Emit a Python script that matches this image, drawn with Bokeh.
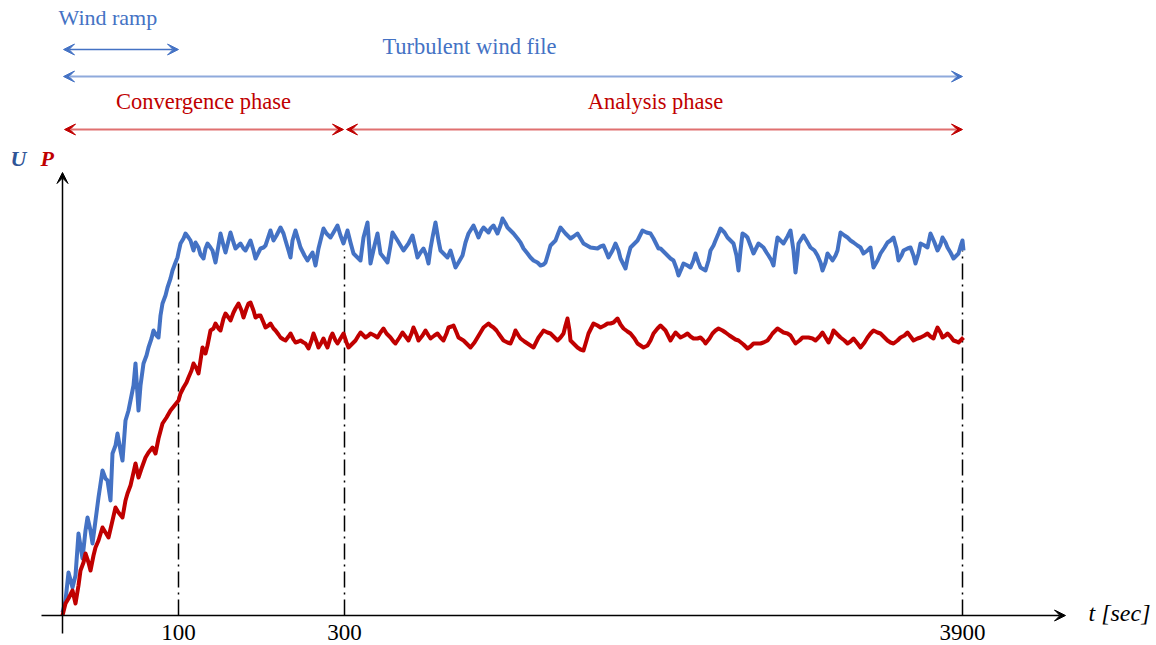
from bokeh.plotting import figure
from bokeh.models import Range1d, Arrow, VeeHead
from bokeh.core.properties import value
from bokeh.embed import file_html
from bokeh.resources import INLINE
import numpy as np

# ---------------- data ----------------
# segmented (schematic) time axis: positions of the time ticks on the axis
tick_time = [0, 100, 300, 3900]
tick_pos = [0, 116, 282, 900]
tick_labels = ["", "100", "300", "3900"]

# wind speed U (arbitrary units) sampled along the schematic time axis
u_pos = [0, 3, 6, 10, 13, 16, 20, 23, 25, 28, 30, 33, 36, 40, 43, 45, 48, 50, 53, 55, 58, 60, 63, 66, 68, 71, 73,
         76, 78, 81, 84, 86, 89, 91, 94, 96, 98, 100, 103, 105, 108, 110, 113, 115, 116, 118, 121, 123, 126, 128,
         131, 133, 136, 138, 141, 143, 145, 148, 150, 153, 156, 158, 161, 163, 166, 168, 171, 173, 176, 178, 181,
         183, 186, 188, 191, 193, 196, 198, 201, 203, 206, 208, 211, 214, 218, 221, 223, 226, 228, 230, 233, 236,
         238, 242, 245, 248, 250, 253, 256, 258, 261, 264, 268, 271, 275, 278, 281, 285, 288, 291, 295, 298, 301,
         305, 308, 312, 315, 318, 322, 325, 328, 330, 335, 338, 341, 346, 350, 353, 355, 358, 361, 364, 366, 368,
         370, 373, 376, 378, 382, 385, 388, 393, 396, 400, 403, 406, 411, 414, 416, 419, 421, 426, 428, 431, 435,
         438, 440, 443, 445, 448, 451, 455, 458, 461, 465, 468, 471, 475, 478, 481, 483, 486, 488, 493, 496, 498,
         503, 508, 511, 515, 518, 521, 528, 535, 538, 541, 544, 546, 550, 553, 556, 558, 563, 565, 568, 572, 575,
         580, 584, 588, 591, 596, 598, 602, 605, 608, 611, 614, 616, 619, 621, 625, 628, 631, 633, 636, 638, 643,
         646, 648, 651, 653, 656, 658, 662, 665, 668, 671, 674, 676, 678, 680, 683, 685, 688, 691, 694, 696, 701,
         704, 706, 709, 711, 713, 715, 718, 721, 725, 728, 731, 733, 735, 736, 741, 744, 748, 752, 755, 758, 760,
         763, 765, 768, 770, 773, 775, 778, 782, 785, 788, 791, 795, 798, 801, 805, 808, 811, 815, 818, 822, 825,
         828, 831, 834, 836, 839, 841, 845, 848, 851, 853, 856, 858, 862, 865, 868, 872, 875, 878, 880, 883, 885,
         888, 891, 894, 896, 898, 900, 901]
u_val = [3, 15, 43, 28, 40, 82, 57, 85, 98, 85, 72, 95, 118, 145, 137, 135, 115, 162, 170, 182, 165, 155, 195, 205,
         215, 230, 252, 205, 230, 252, 260, 268, 277, 285, 280, 278, 300, 312, 320, 328, 337, 345, 353, 358, 363,
         372, 377, 382, 378, 375, 365, 373, 368, 361, 357, 367, 372, 368, 365, 353, 370, 382, 370, 363, 375, 383,
         373, 367, 370, 372, 367, 365, 371, 375, 365, 357, 363, 367, 368, 370, 379, 385, 375, 380, 388, 382, 375,
         365, 358, 375, 385, 375, 368, 360, 355, 360, 363, 350, 367, 375, 387, 382, 378, 383, 390, 380, 372, 385,
         373, 362, 358, 355, 378, 393, 352, 370, 382, 362, 357, 353, 370, 383, 375, 370, 365, 372, 380, 367, 358,
         363, 367, 360, 352, 367, 378, 393, 375, 365, 361, 358, 365, 348, 353, 360, 373, 382, 390, 383, 378, 385,
         388, 383, 387, 390, 382, 390, 397, 392, 388, 385, 382, 377, 373, 367, 362, 358, 355, 353, 350, 351, 353,
         363, 370, 375, 383, 388, 382, 377, 379, 382, 377, 372, 368, 367, 369, 370, 363, 358, 365, 372, 365, 357,
         347, 357, 368, 372, 375, 385, 383, 382, 377, 367, 367, 363, 360, 357, 355, 347, 340, 347, 352, 350, 348,
         355, 362, 353, 348, 345, 355, 365, 370, 375, 382, 387, 383, 378, 375, 372, 360, 345, 365, 382, 380, 378,
         370, 362, 368, 372, 368, 363, 360, 355, 350, 365, 378, 375, 372, 379, 385, 365, 343, 360, 372, 380, 375,
         368, 365, 360, 353, 345, 353, 362, 358, 355, 360, 365, 383, 380, 378, 375, 373, 370, 368, 362, 365, 368,
         348, 355, 362, 368, 373, 375, 378, 367, 355, 360, 365, 367, 368, 360, 352, 362, 372, 370, 368, 382, 373,
         365, 371, 378, 373, 368, 363, 357, 360, 362, 369, 375, 365]

# power P (arbitrary units) sampled along the schematic time axis
p_pos = [0, 3, 6, 10, 13, 16, 18, 21, 23, 26, 28, 31, 33, 36, 40, 43, 46, 50, 53, 56, 60, 63, 65, 68, 71, 73, 76,
         79, 83, 86, 90, 93, 96, 100, 104, 108, 112, 116, 118, 121, 124, 126, 129, 131, 134, 136, 138, 140, 143,
         145, 148, 151, 153, 156, 158, 161, 163, 166, 168, 171, 173, 176, 179, 181, 184, 186, 188, 191, 193, 196,
         198, 201, 203, 206, 208, 211, 213, 216, 218, 221, 223, 226, 228, 231, 233, 236, 238, 241, 243, 246, 249,
         251, 254, 256, 259, 261, 263, 265, 268, 270, 273, 275, 278, 281, 284, 286, 290, 293, 296, 298, 301, 303,
         306, 308, 312, 315, 318, 321, 324, 328, 331, 333, 337, 340, 343, 346, 349, 351, 354, 356, 360, 363, 366,
         368, 372, 375, 378, 381, 384, 386, 389, 391, 394, 396, 401, 405, 408, 412, 415, 418, 421, 426, 428, 431,
         434, 436, 441, 445, 448, 451, 453, 456, 458, 462, 465, 471, 474, 476, 479, 481, 485, 488, 492, 495, 498,
         501, 503, 505, 507, 508, 512, 515, 518, 521, 524, 526, 529, 531, 535, 538, 542, 545, 548, 551, 555, 558,
         561, 565, 568, 572, 575, 578, 581, 585, 588, 591, 595, 598, 601, 603, 606, 608, 611, 613, 616, 618, 622,
         625, 628, 631, 635, 638, 641, 643, 647, 650, 653, 656, 660, 663, 667, 670, 673, 676, 681, 685, 688, 691,
         695, 698, 701, 705, 708, 710, 713, 715, 718, 721, 725, 728, 731, 733, 737, 740, 743, 746, 750, 753, 757,
         760, 763, 766, 769, 771, 775, 778, 782, 785, 788, 791, 795, 798, 802, 805, 808, 811, 815, 818, 822, 825,
         828, 831, 835, 838, 842, 845, 848, 851, 855, 858, 862, 865, 868, 871, 873, 875, 878, 880, 883, 885, 888,
         891, 894, 896, 899, 901]
p_val = [0, 12, 17, 25, 12, 30, 45, 53, 62, 53, 45, 60, 68, 75, 88, 83, 78, 95, 108, 103, 98, 115, 122, 130, 143,
         152, 138, 147, 158, 163, 168, 162, 177, 192, 198, 205, 210, 215, 222, 228, 233, 238, 245, 252, 247, 242,
         255, 268, 262, 270, 285, 287, 292, 287, 285, 297, 302, 298, 295, 303, 307, 312, 305, 298, 307, 312, 313,
         305, 298, 300, 300, 293, 288, 290, 292, 287, 285, 281, 278, 276, 275, 279, 282, 276, 273, 274, 275, 273,
         272, 267, 275, 282, 274, 268, 273, 277, 272, 268, 278, 282, 275, 272, 277, 282, 273, 268, 272, 275, 280,
         283, 280, 278, 280, 282, 280, 278, 283, 287, 282, 278, 274, 272, 278, 283, 279, 275, 282, 288, 281, 275,
         280, 285, 280, 277, 280, 282, 278, 275, 282, 288, 289, 290, 283, 278, 275, 271, 268, 273, 278, 283, 288,
         292, 290, 288, 285, 282, 275, 273, 272, 279, 285, 280, 277, 274, 272, 268, 274, 278, 282, 285, 283, 282,
         278, 275, 278, 282, 290, 297, 285, 275, 271, 268, 266, 265, 275, 282, 288, 292, 290, 288, 290, 292, 292,
         293, 297, 291, 287, 284, 282, 277, 272, 270, 268, 270, 275, 282, 287, 290, 287, 285, 279, 275, 280, 283,
         280, 278, 280, 282, 279, 277, 277, 278, 275, 272, 277, 282, 285, 287, 285, 283, 280, 278, 276, 275, 271,
         267, 269, 272, 272, 272, 273, 275, 279, 282, 285, 287, 285, 283, 282, 280, 275, 272, 275, 278, 278, 278,
         277, 275, 279, 283, 278, 273, 279, 285, 281, 278, 275, 272, 274, 277, 272, 268, 273, 278, 282, 285, 283,
         282, 278, 275, 273, 272, 275, 278, 280, 283, 279, 275, 277, 278, 280, 282, 279, 277, 283, 288, 283, 278,
         280, 282, 279, 275, 274, 273, 276, 278]

# annotation texts
span_texts = ["Wind ramp", "Turbulent wind file", "Convergence phase", "Analysis phase"]
axis_title_x = "t [sec]"

BLUE = "#4472C4"
BLUE_LIGHT = "#8FAADC"
RED = "#C00000"
RED_LIGHT = "#E07070"
SERIF = value("Liberation Serif")

# ---------------- figure ----------------
p = figure(width=1156, height=645, x_range=Range1d(-62, 1094), y_range=Range1d(-30, 615),
           output_backend="svg", toolbar_location=None, x_axis_type=None, y_axis_type=None,
           min_border=0)
p.outline_line_color = None
p.background_fill_color = "white"

# vertical dash-dot markers at 100, 300 and 3900 s, ending just below the U curve
mk_pos = np.array(tick_pos[1:], dtype=float)
mk_top = np.interp(mk_pos, u_pos, u_val) - 10
p.segment(x0=mk_pos, y0=np.zeros_like(mk_pos), x1=mk_pos, y1=mk_top,
          line_color="black", line_width=1.5, line_dash="16 5 2 5")

# signals
p.line(u_pos, u_val, line_color=BLUE, line_width=4, line_join="round")
p.line(p_pos, p_val, line_color=RED, line_width=4, line_join="round")

# axes (arrows)
head = dict(size=11, fill_color="black", line_color="black")
p.add_layout(Arrow(end=VeeHead(**head), x_start=-21, y_start=0, x_end=1003, y_end=0,
                   line_color="black", line_width=1.5))
p.add_layout(Arrow(end=VeeHead(**head), x_start=0, y_start=-18, x_end=0, y_end=443,
                   line_color="black", line_width=1.5))

# tick labels
p.text(x=tick_pos[1:], y=[-9] * 3, text=tick_labels[1:], text_align="center", text_baseline="top",
       text_font=SERIF, text_font_size="23px", text_color="black")
p.text(x=[1026], y=[3], text=[axis_title_x], text_align="left", text_baseline="middle",
       text_font=SERIF, text_font_size="24px", text_font_style="italic", text_color="black")

# U and P labels
p.text(x=[-52], y=[457], text=["U"], text_baseline="alphabetic", text_font=SERIF,
       text_font_size="22px", text_font_style="bold italic", text_color="#2F5597")
p.text(x=[-22], y=[457], text=["P"], text_baseline="alphabetic", text_font=SERIF,
       text_font_size="22px", text_font_style="bold italic", text_color=RED)

# span arrows
rows = {"ramp": 566, "file": 539, "phase": 486}


def span(x0, x1, y, line_color, head_color, lw):
    hd = dict(size=11, fill_color=head_color, line_color=head_color)
    p.add_layout(Arrow(start=VeeHead(**hd), end=VeeHead(**hd), x_start=x0, y_start=y, x_end=x1, y_end=y,
                       line_color=line_color, line_width=lw))


span(tick_pos[0] + 1, tick_pos[1], rows["ramp"], BLUE, BLUE, 1.3)
span(tick_pos[0] + 1, tick_pos[3], rows["file"], BLUE_LIGHT, BLUE, 2)
span(tick_pos[0] + 2, tick_pos[2] - 1, rows["phase"], RED_LIGHT, RED, 2)
span(tick_pos[2] + 2, tick_pos[3], rows["phase"], RED_LIGHT, RED, 2)

# span texts
p.text(x=[-4], y=[598], text=[span_texts[0]], text_align="left", text_baseline="alphabetic",
       text_font=SERIF, text_font_size="22px", text_color=BLUE)
p.text(x=[407], y=[569], text=[span_texts[1]], text_align="center", text_baseline="alphabetic",
       text_font=SERIF, text_font_size="22.5px", text_color=BLUE)
p.text(x=[(tick_pos[0] + tick_pos[2]) / 2], y=[514], text=[span_texts[2]], text_align="center",
       text_baseline="alphabetic", text_font=SERIF, text_font_size="22.5px", text_color=RED)
p.text(x=[(tick_pos[2] + tick_pos[3]) / 2 + 2], y=[514], text=[span_texts[3]], text_align="center",
       text_baseline="alphabetic", text_font=SERIF, text_font_size="22.5px", text_color=RED)

open("out.html", "w").write(file_html(p, INLINE))
